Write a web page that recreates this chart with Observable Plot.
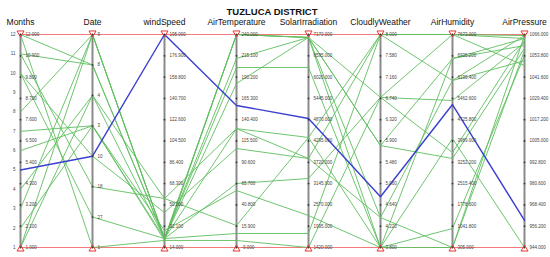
<!DOCTYPE html>
<html>
<head>
<meta charset="utf-8">
<script src="https://cdn.jsdelivr.net/npm/d3@7"></script>
<script src="https://cdn.jsdelivr.net/npm/@observablehq/plot@0.6"></script>
<style>
  html, body { margin: 0; padding: 0; background: #fff; }
  svg { display: block; }
</style>
</head>
<body>
<div id="chart"></div>
<script>
// ---- Data ----
const title = "TUZLUCA DISTRICT";
const dims = ["Months", "Date", "windSpeed", "AirTemperature", "SolarIrradiation", "CloudlyWeather", "AirHumidity", "AirPressure"];
const axisMin = [1, 0, 14, -9, 1420, 3.8, 305, 944];
const axisMax = [12, 7, 195, 240, 7170, 8.0, 7673, 1066];
const dateLabels = ["1", "27", "18", "10", "3", "4", "8", "9"]; // bottom -> top
const monthLabels = [1, 2, 3, 4, 5, 6, 7, 8, 9, 10, 11, 12];

// each series: one record (Date given as category index)
const months           = [12, 12, 11, 10, 10, 8, 7, 6, 3, 2, 1, 1, 4, 11, 5];
const date             = [6, 0, 2, 1, 3, 7, 4, 4, 7, 4, 7, 5, 5, 6, 3];
const windSpeed        = [21.6, 20, 55.6, 21.6, 43.7, 21.6, 21.6, 28.4, 21.6, 20, 21.6, 21.6, 55.6, 21.6, 195];
const airTemperature   = [240, 240, 130, 240, 106.7, 212, 65.8, 57.6, 7.4, -0.8, 201.4, 182.7, 16.7, 130, 157];
const solarIrradiation = [7090, 7090, 4390, 7090, 3823, 7090, 3283, 2284, 1798, 1420, 6280, 7090, 4390, 3823, 4903];
const cloudlyWeather   = [6.76, 5.81, 8.0, 3.8, 8.0, 4.39, 6.76, 3.8, 8.0, 6.76, 3.8, 5.81, 3.8, 4.39, 4.8];
const airHumidity      = [7673, 6843, 6081, 4075, 7673, 305, 5390, 962, 7673, 3591, 305, 3384, 6843, 6081, 5251];
const airPressure      = [1063.7, 1059.7, 1051, 944, 1065.4, 1056.8, 1061.4, 1054, 1048.2, 1062.6, 1065.4, 1058, 1063.7, 1065.4, 959.5];
const highlighted      = [false, false, false, false, false, false, false, false, false, false, false, false, false, false, true];

// ---- Build long table ----
const cols = [months, date, windSpeed, airTemperature, solarIrradiation, cloudlyWeather, airHumidity, airPressure];
const rows = [];
for (let r = 0; r < months.length; r++) {
  dims.forEach((d, i) => {
    rows.push({id: r, dim: d, y: (cols[i][r] - axisMin[i]) / (axisMax[i] - axisMin[i]), hl: highlighted[r]});
  });
}
const greenRows = rows.filter(d => !d.hl);
const blueRows = rows.filter(d => d.hl);

// ticks
const ticks = [];
dims.forEach((d, i) => {
  if (d === "Date") {
    dateLabels.forEach((lab, k) => ticks.push({dim: d, y: k / (dateLabels.length - 1), label: lab}));
  } else {
    for (let k = 0; k <= 10; k++) {
      const v = axisMin[i] + k * (axisMax[i] - axisMin[i]) / 10;
      ticks.push({dim: d, y: k / 10, label: v.toFixed(3)});
    }
  }
});
const monthTicks = monthLabels.map(m => ({dim: "Months", y: (m - 1) / 11, label: String(m)}));

const topBound = dims.map(d => ({dim: d, y: 1}));
const botBound = dims.map(d => ({dim: d, y: 0}));

const chart = Plot.plot({
  width: 550,
  height: 257,
  marginLeft: 17,
  marginRight: 24,
  marginTop: 34,
  marginBottom: 10,
  x: {type: "point", domain: dims, axis: null, padding: 0},
  y: {domain: [0, 1], axis: null},
  style: {fontFamily: "Arial, 'Liberation Sans', sans-serif", background: "#fff"},
  marks: [
    Plot.ruleX(dims, {x: d => d, y1: 0, y2: 1, stroke: "#8a8a8a", strokeWidth: 2}),
    Plot.line(topBound, {x: "dim", y: "y", stroke: "#f27a7a", strokeWidth: 1}),
    Plot.line(botBound, {x: "dim", y: "y", stroke: "#f27a7a", strokeWidth: 1}),
    Plot.line(greenRows, {x: "dim", y: "y", z: "id", stroke: "#5fbf5f", strokeWidth: 1, strokeOpacity: 0.9}),
    Plot.line(blueRows, {x: "dim", y: "y", z: "id", stroke: "#3a3fd0", strokeWidth: 1.4}),
    Plot.dot(ticks, {x: "dim", y: "y", r: 0.9, fill: "#333", stroke: "none"}),
    Plot.text(ticks, {x: "dim", y: "y", text: "label", textAnchor: "start", dx: 5, fontSize: 4.5, fill: "#444"}),
    Plot.text(monthTicks, {x: "dim", y: "y", text: "label", textAnchor: "end", dx: -5, fontSize: 4.5, fill: "#444"}),
    Plot.dot(topBound, {x: "dim", y: "y", symbol: "triangle", rotate: 180, r: 2.6, stroke: "#e33", fill: "none", strokeWidth: 1, dy: -1.5}),
    Plot.dot(botBound, {x: "dim", y: "y", symbol: "triangle", r: 2.6, stroke: "#e33", fill: "none", strokeWidth: 1, dy: 1.5}),
    Plot.text(dims, {x: d => d, y: () => 1, text: d => d, dy: -12, fontSize: 8.5, fill: "#111"}),
    Plot.text([title], {frameAnchor: "top", dy: -26, text: d => d, fontSize: 9.5, fontWeight: "bold", fill: "#111"})
  ]
});
document.getElementById("chart").appendChild(chart);
</script>
</body>
</html>
